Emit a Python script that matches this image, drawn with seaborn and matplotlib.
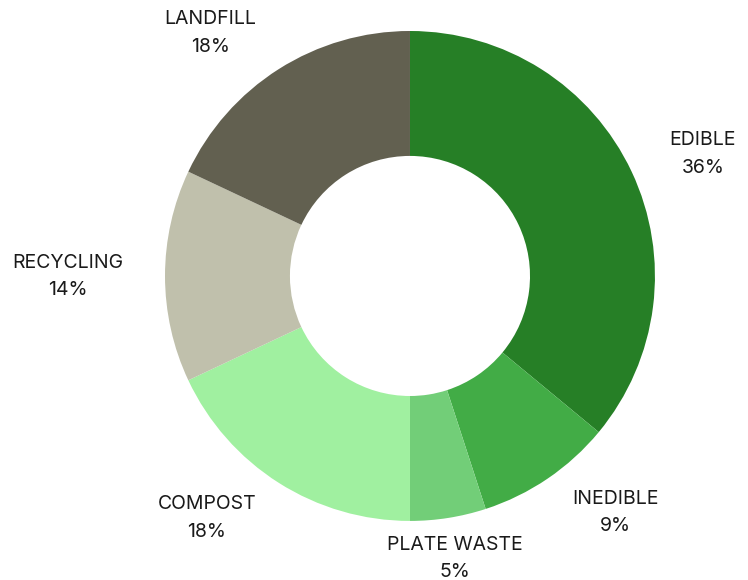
import seaborn as sns
import matplotlib.pyplot as plt

categories = ["EDIBLE", "INEDIBLE", "PLATE WASTE", "COMPOST", "RECYCLING", "LANDFILL"]
shares = [36, 9, 5, 18, 14, 18]
colors = ["#267F26", "#42AC46", "#72CE78", "#A0F0A0", "#C0C0AC", "#626050"]
# where each label sits, in units of the outer radius
label_xy = [(1.196, 0.498), (0.837, -0.967), (0.184, -1.155),
            (-0.829, -0.988), (-1.396, -0.004), (-0.816, 0.992)]

sns.set_theme(style="white")
plt.rcParams["font.family"] = ["Inter", "DejaVu Sans"]

labels = [f"{c}\n{v}%" for c, v in zip(categories, shares)]

fig = plt.figure(figsize=(7.48, 5.8), dpi=100)
# square axes, center of the ring at about (410, 276) px
ax = fig.add_axes([0.2206, 0.1017, 0.655, 0.845])

wedges, texts = ax.pie(
    shares,
    labels=labels,
    colors=sns.color_palette(colors),
    startangle=90,
    counterclock=False,
    wedgeprops=dict(width=0.51, linewidth=0),
    textprops=dict(ha="center", va="center", fontsize=14, color="#1a1a1a", linespacing=1.65),
)
for t, xy in zip(texts, label_xy):
    t.set_position(xy)

ax.set_xlim(-1, 1)
ax.set_ylim(-1, 1)
ax.set_aspect("equal", adjustable="box")

fig.savefig("out.png", dpi=100)
